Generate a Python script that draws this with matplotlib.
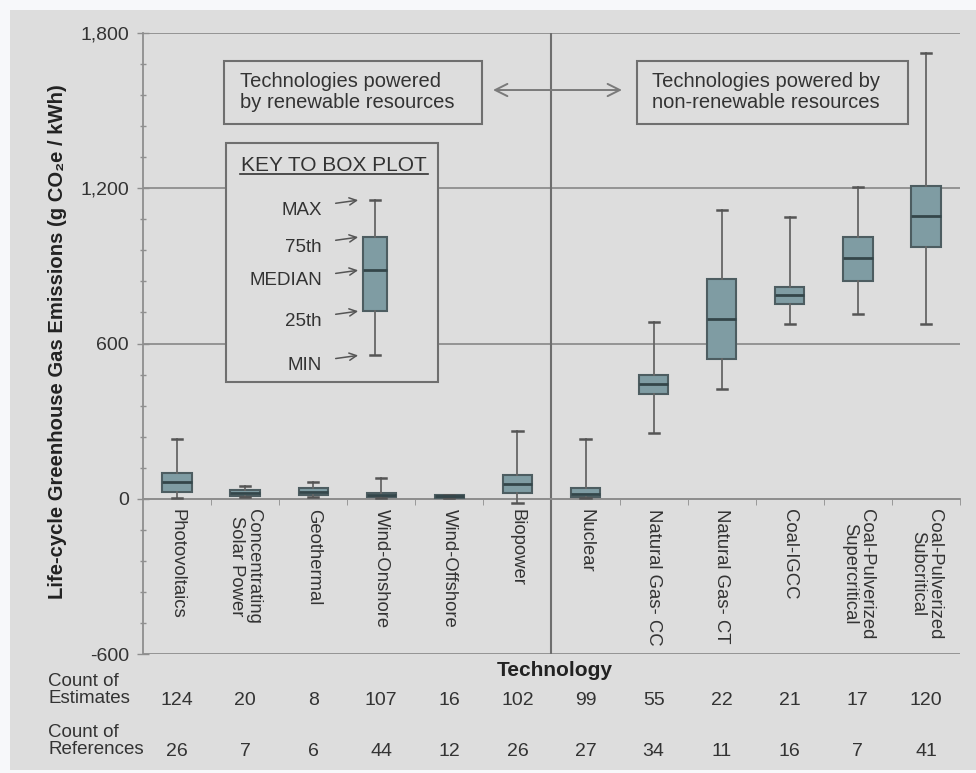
import matplotlib
matplotlib.use("Agg")
import matplotlib.pyplot as plt
from matplotlib.patches import Rectangle
from matplotlib.lines import Line2D
from matplotlib.transforms import blended_transform_factory

plt.rcParams['font.family'] = ['Liberation Sans', 'DejaVu Sans']

# ____________________ data ____________________ #

categories = ['Photovoltaics', 'Concentrating\nSolar Power', 'Geothermal',
              'Wind-Onshore', 'Wind-Offshore', 'Biopower', 'Nuclear',
              'Natural Gas- CC', 'Natural Gas- CT', 'Coal-IGCC',
              'Coal-Pulverized\nSupercritical', 'Coal-Pulverized\nSubcritical']

mins = [4, 7, 6, 2, 3, -16, 4, 255, 426, 677, 716, 677]
q1s = [28, 10, 15, 7, 4, 24, 6, 406, 542, 751, 840, 972]
medians = [63, 21, 28, 13, 10, 59, 20, 445, 693, 786, 929, 1092]
q3s = [99, 34, 41, 22, 13, 93, 40, 480, 848, 817, 1011, 1208]
maxs = [231, 48, 63, 80, 15, 263, 231, 682, 1115, 1088, 1204, 1723]

estimates = [124, 20, 8, 107, 16, 102, 99, 55, 22, 21, 17, 120]
references = [26, 7, 6, 44, 12, 26, 27, 34, 11, 16, 7, 41]

# example box shown in the key
key_labels = ['MAX', '75th', 'MEDIAN', '25th', 'MIN']
key_values = [1154, 1011, 883, 725, 554]

y_ticks = [-600, 0, 600, 1200, 1800]
y_ticklabels = ['-600', '0', '600', '1,200', '1,800']

# ____________________ styling ____________________ #

bg = '#dddddd'
text_col = '#333333'
grid_col = '#8e8e8e'
box_face = '#7f9ca3'
box_edge = '#4d5d61'

fig = plt.figure(figsize=(9.76, 7.73), dpi=100, facecolor='#f7f8fa')
fig.patches.append(Rectangle((0.0102, 0.0039), 1.0, 0.9832, transform=fig.transFigure,
                             facecolor=bg, edgecolor='none', zorder=-10))

ax = fig.add_axes([0.1465, 0.1539, 0.8371, 0.8034])
ax.set_facecolor('none')

stats = []
for i in range(len(categories)):
    stats.append({'whislo': mins[i], 'q1': q1s[i], 'med': medians[i],
                  'q3': q3s[i], 'whishi': maxs[i], 'fliers': []})

box_kw = dict(patch_artist=True, capwidths=0.15, showfliers=False, manage_ticks=False,
              boxprops=dict(facecolor=box_face, edgecolor=box_edge, linewidth=1.5),
              medianprops=dict(color='#34464a', linewidth=2),
              whiskerprops=dict(color='#666666', linewidth=1.3),
              capprops=dict(color='#555555', linewidth=1.8))

ax.bxp(stats, positions=range(len(categories)), widths=0.43, zorder=4, **box_kw)

# axes and grid
ax.set_xlim(-0.5, len(categories) - 0.5)
ax.set_ylim(-600, 1800)
ax.set_yticks(y_ticks)
ax.set_yticklabels(y_ticklabels, fontsize=14, color=text_col)
ax.set_yticks(range(-600, 1801, 120), minor=True)
ax.tick_params(axis='y', which='major', direction='inout', length=8, width=1,
               color=grid_col, pad=6)
ax.tick_params(axis='y', which='minor', direction='inout', length=4, width=1,
               color=grid_col)
ax.yaxis.grid(True, color=grid_col, linewidth=1.3, zorder=1)
ax.set_axisbelow(True)

ax.spines['top'].set_visible(False)
ax.spines['right'].set_visible(False)
ax.spines['left'].set_color(grid_col)
ax.spines['left'].set_linewidth(1.3)
ax.spines['bottom'].set_position(('data', 0))
ax.spines['bottom'].set_color(grid_col)
ax.spines['bottom'].set_linewidth(1.3)

ax.set_xticks(range(len(categories)))
ax.set_xticklabels(categories, rotation=270, fontsize=13.3, color=text_col,
                   linespacing=0.95)
ax.set_xticks([i + 0.5 for i in range(len(categories))], minor=True)
ax.tick_params(axis='x', which='major', length=0, pad=7)
ax.tick_params(axis='x', which='minor', direction='out', length=4, color=grid_col)

# renewable / non-renewable divider
ax.axvline(5.5, color='#6e6e6e', linewidth=1.5, zorder=2)

# top annotation boxes and arrow
ax.add_patch(Rectangle((0.0991, 0.8535), 0.3158, 0.1014, transform=ax.transAxes,
                       facecolor=bg, edgecolor='#6f6f6f', linewidth=1.5, zorder=5))
ax.text(0.1187, 0.905, 'Technologies powered\nby renewable resources',
        transform=ax.transAxes, fontsize=14.5, color=text_col, va='center', ha='left',
        linespacing=1.1, zorder=6)
ax.add_patch(Rectangle((0.6047, 0.8535), 0.3316, 0.1014, transform=ax.transAxes,
                       facecolor=bg, edgecolor='#6f6f6f', linewidth=1.5, zorder=5))
ax.text(0.623, 0.905, 'Technologies powered by\nnon-renewable resources',
        transform=ax.transAxes, fontsize=14.5, color=text_col, va='center', ha='left',
        linespacing=1.1, zorder=6)
ax.annotate('', xy=(0.5863, 0.9082), xytext=(0.4284, 0.9082), xycoords='axes fraction',
            arrowprops=dict(arrowstyle='<->', color='#7a7a7a', lw=1.4,
                            mutation_scale=22, shrinkA=0, shrinkB=0), zorder=6)

# key to box plot
ax.add_patch(Rectangle((0.1016, 0.438), 0.2595, 0.3849, transform=ax.transAxes,
                       facecolor=bg, edgecolor='#6f6f6f', linewidth=1.5, zorder=3))
ax.text(0.2338, 0.7874, 'KEY TO BOX PLOT', transform=ax.transAxes, fontsize=15,
        color=text_col, ha='center', va='center', zorder=6)
ax.add_line(Line2D([0.1187, 0.3488], [0.7735, 0.7735], transform=ax.transAxes,
                   color=text_col, linewidth=1.2, zorder=6))

key_stats = [{'whislo': key_values[4], 'q1': key_values[3], 'med': key_values[2],
              'q3': key_values[1], 'whishi': key_values[0], 'fliers': []}]
ax.bxp(key_stats, positions=[2.91], widths=0.36, zorder=5, **box_kw)

for lab, val in zip(key_labels, key_values):
    ax.text(2.13, val - 40, lab, fontsize=13.5, color=text_col, ha='right', va='center',
            zorder=6)
    ax.annotate('', xy=(2.66, val), xytext=(2.33, val - 12),
                arrowprops=dict(arrowstyle='->', color='#555555', lw=1.1,
                                mutation_scale=13, shrinkA=0, shrinkB=0), zorder=6)

# axis titles
fig.text(0.0594, 0.5576, 'Life-cycle Greenhouse Gas Emissions (g CO\u2082e / kWh)',
         rotation=90, fontsize=14.6, fontweight='bold', color='#222222',
         ha='center', va='center')
fig.text(0.5686, 0.1332, 'Technology', fontsize=15, fontweight='bold',
         color='#222222', ha='center', va='center')

# count rows under the chart
trans = blended_transform_factory(ax.transData, fig.transFigure)
for i in range(len(categories)):
    ax.text(i, 0.0944, str(estimates[i]), transform=trans, fontsize=14,
            color=text_col, ha='center', va='center')
    ax.text(i, 0.0272, str(references[i]), transform=trans, fontsize=14,
            color=text_col, ha='center', va='center')
fig.text(0.0492, 0.1074, 'Count of\nEstimates', fontsize=13.5, color=text_col,
         ha='left', va='center', linespacing=1.05)
fig.text(0.0492, 0.0414, 'Count of\nReferences', fontsize=13.5, color=text_col,
         ha='left', va='center', linespacing=1.05)

fig.savefig('out.png', dpi=100, facecolor=fig.get_facecolor())
